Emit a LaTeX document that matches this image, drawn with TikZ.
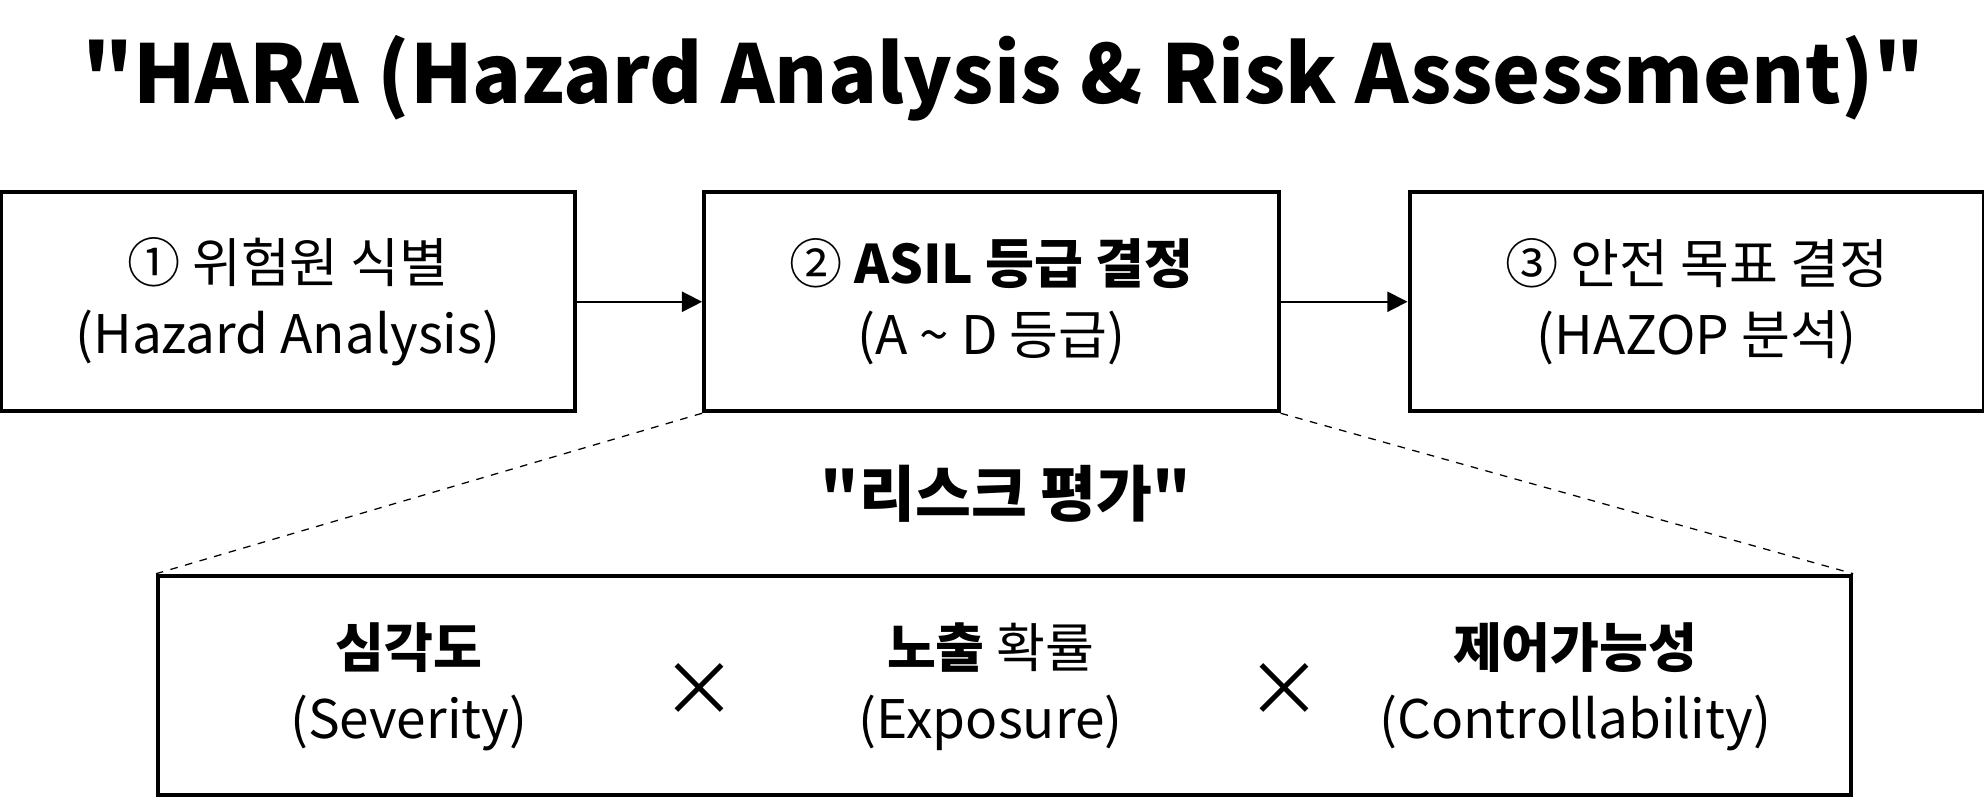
\documentclass[tikz,border=0pt]{standalone}
\usepackage{fontspec}
\setmainfont{Noto Sans CJK KR}[Ligatures=TeXOff]
\usetikzlibrary{arrows.meta}

\tikzset{
  stagebox/.style={draw, line width=1.6pt, minimum width=227pt, minimum height=86.5pt,
    align=center, font=\fontsize{21}{28}\selectfont},
  riskbox/.style={draw, line width=1.6pt, minimum width=669pt, minimum height=86.5pt},
  factor/.style={align=center, font=\fontsize{21}{28}\selectfont},
  flow/.style={-{Triangle[length=8pt,width=8pt]}, line width=0.7pt},
  zoomline/.style={dashed, line width=0.5pt}
}

\begin{document}
\begin{tikzpicture}[x=0.5pt, y=-0.5pt]
    \useasboundingbox (0,0) rectangle (1568,630);
    % Title
    \node (title) at (793,62) {\fontsize{32}{36}\selectfont\bfseries "HARA (Hazard Analysis \& Risk Assessment)"};
    % The three steps
    \node[stagebox] (hazard) at (227.5,238.5) {① 위험원 식별\\(Hazard Analysis)};
    \node[stagebox] (asil) at (783.5,238.5) {② \textbf{ASIL 등급 결정}\\(A \textasciitilde{} D 등급)};
    \node[stagebox] (goal) at (1341,238.5) {③ 안전 목표 결정\\(HAZOP 분석)};
    \draw [flow] (hazard) -- (asil);
    \draw [flow] (asil) -- (goal);
    % Risk assessment
    \node (risk) at (795,390) {\fontsize{24}{28}\selectfont\bfseries "리스크 평가"};
    \node[riskbox] (factors) at (794,541.5) {};
    \draw [zoomline] (asil.south west) -- (factors.north west);
    \draw [zoomline] (asil.south east) -- (factors.north east);
    \node[factor] (sev) at (323,543) {\textbf{심각도}\\(Severity)};
    \node[factor] (exp) at (783,543) {\textbf{노출} 확률\\(Exposure)};
    \node[factor] (ctl) at (1245,543) {\textbf{제어가능성}\\(Controllability)};
    \node (times1) at (553,545) {\fontsize{30}{30}\selectfont ×};
    \node (times2) at (1015,545) {\fontsize{30}{30}\selectfont ×};
\end{tikzpicture}
\end{document}
